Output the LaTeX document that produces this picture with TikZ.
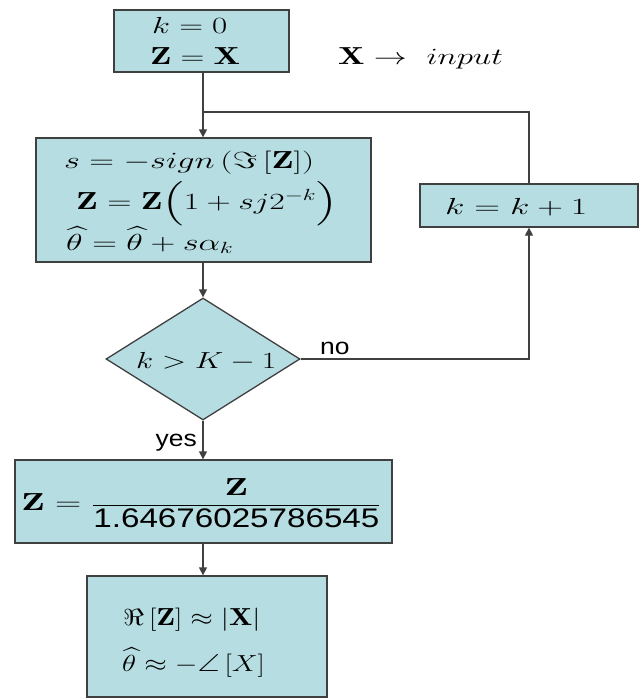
\documentclass[tikz,border=0pt]{standalone}
\usepackage{amsmath,amssymb}
\usepackage{fontspec}
\newfontfamily\libsans{Liberation Sans}
\usetikzlibrary{arrows.meta,shapes.geometric}
\definecolor{boxfill}{RGB}{182,221,225}
\definecolor{edge}{RGB}{64,64,64}
\newcommand\hs[2]{\scalebox{#1}[1.12]{#2}}
\begin{document}
\begin{tikzpicture}[x=1pt,y=-1pt,
  flow/.style={draw=edge,fill=boxfill,line width=1.3pt,inner sep=0pt},
  txt/.style={inner sep=0pt,anchor=base west,font=\fontsize{22}{26}\selectfont},
  lab/.style={inner sep=0pt,anchor=base west,font=\libsans\fontsize{23}{26}\selectfont},
  conn/.style={draw=edge,line width=1.3pt},
  arr/.style={conn,-{Triangle[length=8pt,width=8pt]}}]
\useasboundingbox (0,0) rectangle (639,698);
% boxes
\node[flow,minimum width=175,minimum height=62] (init) at (201.5,41) {};
\node[flow,minimum width=335,minimum height=124] (iter) at (203.5,200) {};
\node[flow,minimum width=218,minimum height=43] (inc) at (529,205.5) {};
\node[flow,diamond,minimum width=194,minimum height=122] (test) at (203,359) {};
\node[flow,minimum width=377,minimum height=83] (scale) at (203.5,501.5) {};
\node[flow,minimum width=240,minimum height=121] (result) at (207,636.5) {};
% texts
\node[txt] (t1a) at (152,34) {\hs{1.59}{$k=0$}};
\node[txt] (t1b) at (150,65) {\hs{1.59}{$\mathbf{Z}=\mathbf{X}$}};
\node[txt] (inp) at (338,65) {\hs{1.59}{$\mathbf{X}\rightarrow\ input$}};
\node[txt] (t2a) at (64,168) {\hs{1.65}{$s=-sign\left(\Im\left[\mathbf{Z}\right]\right)$}};
\node[txt] (t2b) at (76,209) {\hs{1.62}{$\mathbf{Z}=\mathbf{Z}\Bigl(1+sj2^{-k}\Bigr)$}};
\node[txt] (t2c) at (66,250) {\hs{1.65}{$\widehat{\theta}=\widehat{\theta}+s\alpha_k$}};
\node[txt] (t3) at (445,214) {\hs{1.72}{$k=k+1$}};
\node[txt] (t4) at (136,368) {\hs{1.52}{$k>K-1$}};
\node[txt,anchor=center] (t5) at (201.5,503)
  {\hs{1.75}{$\mathbf{Z}=\dfrac{\mathbf{Z}}{\mbox{\scalebox{0.79}[1.0]{\libsans\fontsize{24}{28}\selectfont 1.64676025786545}}}$}};
\node[txt] (t6a) at (123,625) {\hs{1.40}{$\Re\left[\mathbf{Z}\right]\approx\left|\mathbf{X}\right|$}};
\node[txt] (t6b) at (122,671) {\hs{1.40}{$\widehat{\theta}\approx-\angle\left[X\right]$}};
\node[lab] (no) at (320,354) {\scalebox{1.15}[1]{no}};
\node[lab,anchor=base east] (yes) at (197,446) {\scalebox{1.15}[1]{yes}};
% connectors
\coordinate (join) at (203,112);
\draw[arr] (init.south -| test) -- (iter.north -| test);
\draw[conn] (inc.north) |- (join);
\draw[arr] (iter.south -| test) -- (test.north);
\draw[arr] (test.east) -| (inc.south);
\draw[arr] (test.south) -- (scale.north -| test);
\draw[arr] (scale.south -| test) -- (result.north -| test);
\end{tikzpicture}
\end{document}
